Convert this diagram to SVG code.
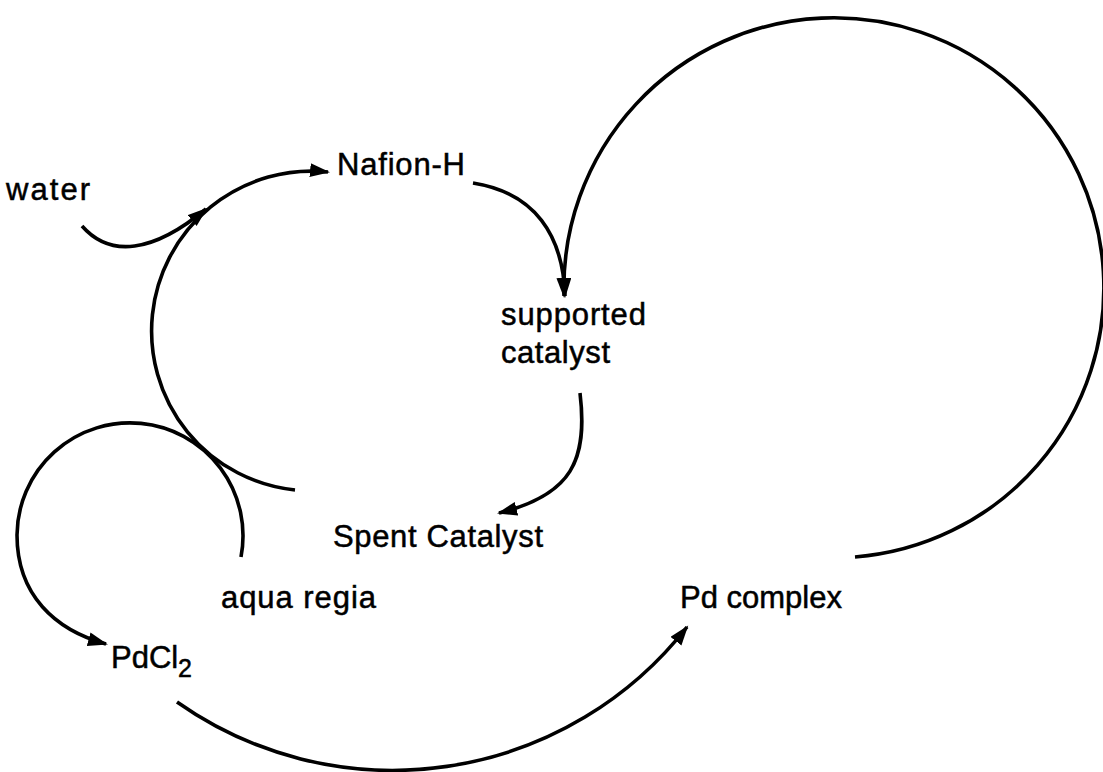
<svg xmlns="http://www.w3.org/2000/svg" width="1103" height="772" viewBox="0 0 1103 772">
<style>
text{font-family:"Liberation Sans",Arial,sans-serif;font-size:31px;fill:#000;stroke:#000;stroke-width:0.5}
.c{fill:none;stroke:#000;stroke-width:3.6}
.a{marker-end:url(#ah)}
</style>
<defs>
<marker id="ah" markerUnits="userSpaceOnUse" markerWidth="22" markerHeight="16" refX="18" refY="7" orient="auto">
<path d="M0,0 L20,7 L0,14 z" fill="#000"/>
</marker>
</defs>
<rect width="1103" height="772" fill="#fff"/>
<g id="connectors">
<path class="c a" d="M295,490 A159,159 0 1 1 328,172"/>
<path class="c a" d="M82,226 C110,258 153,253 206,209"/>
<path class="c a" d="M473,183 C535,193 563,235 565,296"/>
<path class="c a" d="M855,557 A270,270 0 1 0 564,296"/>
<path class="c a" d="M580,393 C588,460 572,495 499,513"/>
<path class="c a" d="M241,557 A113,113 0 1 0 17,535 C17,595 55,630 106,644"/>
<path class="c a" d="M177,702 A374,374 0 0 0 687,627"/>
</g>
<g id="water"><text x="6" y="200" textLength="84">water</text></g>
<g id="nafion"><text x="337" y="175" textLength="128">Nafion-H</text></g>
<g id="supported"><text x="501" y="325" textLength="145">supported</text><text x="501" y="363" textLength="109">catalyst</text></g>
<g id="spent"><text x="333" y="547" textLength="210">Spent Catalyst</text></g>
<g id="aqua"><text x="221" y="608" textLength="155">aqua regia</text></g>
<g id="pdcomplex"><text x="680" y="608">Pd complex</text></g>
<g id="pdcl2"><text x="111" y="668">PdCl</text><text x="178" y="677" style="font-size:25px">2</text></g>
</svg>
